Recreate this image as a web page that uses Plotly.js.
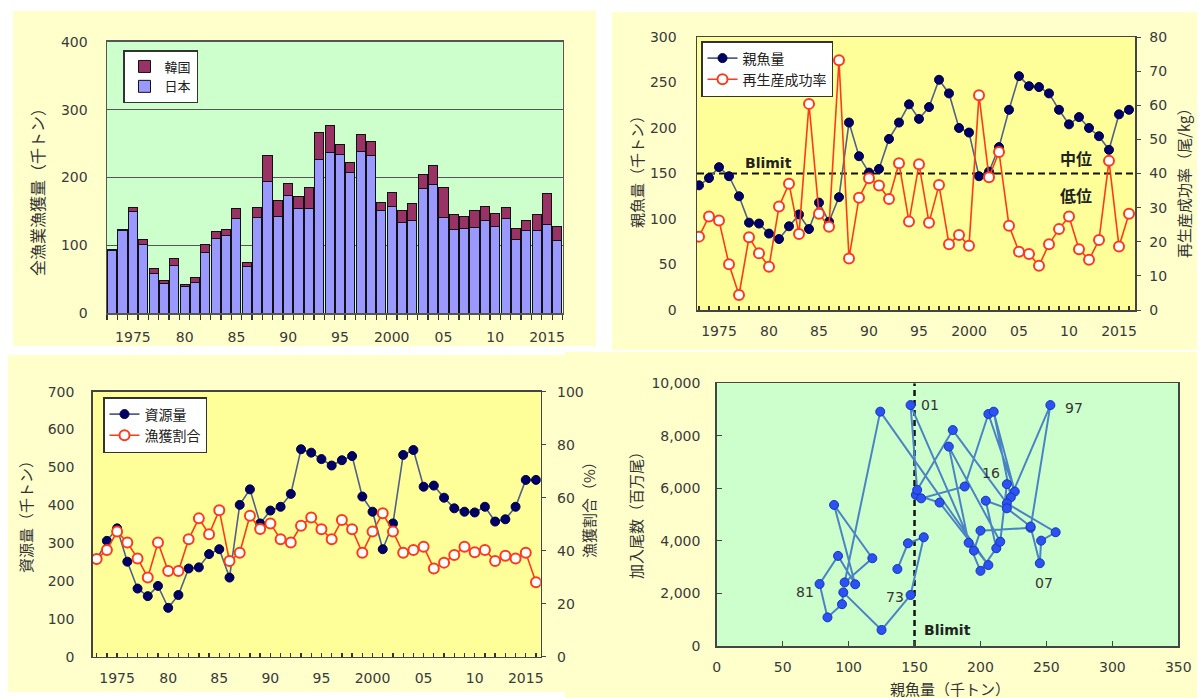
<!DOCTYPE html>
<html><head><meta charset="utf-8">
<script src="https://cdn.plot.ly/plotly-3.0.1.min.js"></script>
<style>html,body{margin:0;padding:0;background:#fff}#chart{width:1201px;height:698px}</style>
</head><body><div id="chart"></div>
<script>
// ---------------- data ----------------
const years = [1973,1974,1975,1976,1977,1978,1979,1980,1981,1982,1983,1984,1985,1986,1987,1988,1989,1990,1991,1992,1993,1994,1995,1996,1997,1998,1999,2000,2001,2002,2003,2004,2005,2006,2007,2008,2009,2010,2011,2012,2013,2014,2015,2016];
const tickYears = [1975,1980,1985,1990,1995,2000,2005,2010,2015];
const tickLabels = ['1975','80','85','90','95','2000','05','10','2015'];
// panel 1: catch (thousand t)
const catchJapan = [92,122,150,101,58,44,71,40,45,90,110,115,140,69,141,194,143,174,155,155,227,237,234,207,239,232,151,158,134,136,184,190,141,123,125,126,136,128,139,109,122,122,131,107];
const catchKorea = [2,1,6,8,8,4,9,2,8,12,11,8,14,6,15,39,23,17,17,30,39,39,14,15,25,21,12,20,18,25,20,28,44,22,18,25,22,19,17,16,14,23,45,21];
// panel 2: spawning stock biomass (thousand t) and RPS (fish/kg)
const ssb = [137,145,157,147,125,96,95,84,78,92,105,89,118,97,124,206,169,151,155,188,206,226,210,223,253,238,200,195,147,152,179,220,257,246,245,238,220,204,212,200,191,176,215,220];
const rps = [21.5,27.4,26.2,13.4,4.4,21.3,16.6,12.7,30.3,37.0,22.3,60.4,28.2,24.4,73.2,15.1,32.9,38.6,36.5,32.5,43.0,25.9,42.7,25.6,36.6,19.3,22.0,18.8,62.9,38.9,46.3,24.7,17.1,16.4,13.0,19.3,23.7,27.4,17.8,14.7,20.5,43.7,18.6,28.2];
// panel 3: biomass (thousand t) and exploitation rate (%)
const biomass = [257,306,339,251,180,160,187,129,163,233,236,271,284,209,401,442,352,386,396,430,548,539,522,505,519,530,423,383,284,352,533,546,449,452,420,392,383,381,396,357,363,396,467,467];
const exploitRate = [36.9,40.3,47.2,43.1,37.1,29.9,43.1,32.3,32.3,44.3,52.2,46.2,55.3,36.1,39.2,53.2,48.2,50.3,44.3,43.1,49.4,52.5,48.1,44.3,51.6,48.1,39.2,47.2,54.1,47.2,39.2,40.3,41.5,33.3,35.5,38.4,41.5,39.4,40.3,36.1,38.1,37.1,39.2,28.1];
// panel 4: recruits (million fish)
const recruits = [2930,3910,4140,1940,610,2040,1590,1090,2360,3430,2350,5370,3340,2420,8920,3080,5460,5750,5620,6070,8830,5880,8920,5660,9170,4500,4390,3630,9170,5940,8220,5430,4330,4010,3150,4550,5240,5530,3720,2860,3930,7590,3970,6160];
const yearLabels = [['73',895,597],['81',805,592],['01',930,405],['97',1074,408],['16',991,473],['07',1044,583]];

// ---------------- helpers ----------------
const W = 1201, H = 698;
const px = x => x / W, py = y => 1 - y / H;
const FONT = 'DejaVu Sans, Noto Sans CJK JP, sans-serif';
const JFONT = 'Noto Sans CJK JP, DejaVu Sans, sans-serif';
const tickFont = {family: FONT, size: 14, color: '#3a3a3a'};

const navy = '#000066', navyLine = '#50608a', red = '#ff3a1a';

const traces = [
  {type:'bar', x: years, y: catchJapan, name:'日本', xaxis:'x', yaxis:'y',
   marker:{color:'#9999ff', line:{color:'#111', width:1}}, legend:'legend'},
  {type:'bar', x: years, y: catchKorea, name:'韓国', xaxis:'x', yaxis:'y',
   marker:{color:'#993366', line:{color:'#111', width:1}}, legend:'legend'},
  {type:'scatter', mode:'lines+markers', x: years, y: ssb, name:'親魚量', xaxis:'x2', yaxis:'y2',
   line:{color:navyLine, width:1.6}, marker:{color:navy, size:9, line:{color:'#000044', width:1}}, legend:'legend2'},
  {type:'scatter', mode:'lines+markers', x: years, y: rps, name:'再生産成功率', xaxis:'x2', yaxis:'y3',
   line:{color:red, width:1.6}, marker:{color:'#ffffff', size:10, line:{color:red, width:2}}, legend:'legend2'},
  {type:'scatter', mode:'lines+markers', x: years, y: biomass, name:'資源量', xaxis:'x3', yaxis:'y4',
   line:{color:navyLine, width:1.6}, marker:{color:navy, size:9, line:{color:'#000044', width:1}}, legend:'legend3'},
  {type:'scatter', mode:'lines+markers', x: years, y: exploitRate, name:'漁獲割合', xaxis:'x3', yaxis:'y5',
   line:{color:red, width:1.6}, marker:{color:'#ffffff', size:10, line:{color:red, width:2}}, legend:'legend3'},
  {type:'scatter', mode:'lines+markers', x: ssb, y: recruits, name:'加入', xaxis:'x4', yaxis:'y6',
   line:{color:'#4a84c4', width:2}, marker:{color:'#2a52f5', size:9, line:{color:'#1a35b0', width:1}}, showlegend:false}
];

const boxLine = {showline:true, mirror:true, linecolor:'#444', linewidth:1.5, zeroline:false, showgrid:false};
const yearAxis = (dom, anchor, range) => Object.assign({
  domain: dom, anchor: anchor, range: range, tickmode:'array', tickvals: tickYears, ticktext: tickLabels,
  ticks:'inside', ticklen:4, tickcolor:'#333', tickwidth:1.3, tickfont: tickFont, ticklabelstandoff: 8,
  minor:{tick0:1973, dtick:1, ticks:'inside', ticklen:4, tickcolor:'#333', tickwidth:1.3, showgrid:false}
}, boxLine);

const layout = {
  width: W, height: H, margin:{l:0,r:0,t:0,b:0}, paper_bgcolor:'#ffffff', plot_bgcolor:'rgba(0,0,0,0)',
  font:{family: FONT, color:'#333'}, barmode:'stack', bargap:0.12,
  // panel 1
  xaxis: Object.assign({domain:[px(107),px(562.5)], anchor:'y', range:[1972.5,2016.5], tickmode:'array',
    tickvals: tickYears, ticktext: tickLabels, ticks:'', tickfont: tickFont, ticklabelstandoff: 10,
    minor:{tick0:1972.5, dtick:1, ticks:'outside', ticklen:5, tickcolor:'#333', tickwidth:1.3, showgrid:false}},
    boxLine, {linecolor:'#555'}),
  yaxis: Object.assign({}, boxLine, {domain:[py(313.3),py(41.7)], anchor:'x', range:[0,400], dtick:100,
    showgrid:true, gridcolor:'#555', gridwidth:1.2, ticks:'', tickfont: tickFont, ticklabelstandoff: 15, linecolor:'#555'}),
  // panel 2
  xaxis2: yearAxis([px(697),px(1135)], 'y2', [1972.8, 2016.6]),
  yaxis2: Object.assign({}, boxLine, {domain:[py(310),py(37)], anchor:'x2', range:[0,300], dtick:50,
    ticks:'', tickfont: tickFont, ticklabelstandoff: 16}),
  yaxis3: Object.assign({}, boxLine, {overlaying:'y2', side:'right', anchor:'x2', range:[0,80], dtick:10,
    ticks:'outside', ticklen:4, tickcolor:'#444', tickfont: tickFont, ticklabelstandoff: 6}),
  // panel 3
  xaxis3: yearAxis([px(92.7),px(540.7)], 'y4', [1972.61, 2016.46]),
  yaxis4: Object.assign({}, boxLine, {domain:[py(656.7),py(391.7)], anchor:'x3', range:[0,700], dtick:100,
    ticks:'', tickfont: tickFont, ticklabelstandoff: 14}),
  yaxis5: Object.assign({}, boxLine, {overlaying:'y4', side:'right', anchor:'x3', range:[0,100], dtick:20,
    ticks:'outside', ticklen:4, tickcolor:'#444', tickfont: tickFont, ticklabelstandoff: 8}),
  // panel 4
  xaxis4: Object.assign({}, boxLine, {domain:[px(716.7),px(1178.3)], anchor:'y6', range:[0,350], dtick:50,
    ticks:'inside', ticklen:5, tickcolor:'#444', tickfont: tickFont, ticklabelstandoff: 8}),
  yaxis6: Object.assign({}, boxLine, {domain:[py(646),py(383.3)], anchor:'x4', range:[0,10000], dtick:2000,
    tickformat:',d', ticks:'inside', ticklen:5, tickcolor:'#444', tickfont: tickFont, ticklabelstandoff: 12}),
  legend: {x:px(123), y:py(50), xanchor:'left', yanchor:'top', bgcolor:'#fff', bordercolor:'#333', borderwidth:1.5,
    font:{family:JFONT, size:13, color:'#222'}, traceorder:'reversed'},
  legend2: {x:px(701), y:py(41), xanchor:'left', yanchor:'top', bgcolor:'#fff', bordercolor:'#333', borderwidth:1.5,
    font:{family:JFONT, size:14, color:'#222'}},
  legend3: {x:px(103), y:py(397), xanchor:'left', yanchor:'top', bgcolor:'#fff', bordercolor:'#333', borderwidth:1.5,
    font:{family:JFONT, size:14, color:'#222'}},
  shapes: [
    // panel backgrounds
    {type:'rect', xref:'paper', yref:'paper', x0:px(13), x1:px(596), y0:py(346), y1:py(11), fillcolor:'#ffffcc', line:{width:0}, layer:'below'},
    {type:'rect', xref:'paper', yref:'paper', x0:px(612), x1:px(1197), y0:py(350), y1:py(12), fillcolor:'#ffffcc', line:{width:0}, layer:'below'},
    {type:'rect', xref:'paper', yref:'paper', x0:px(8), x1:px(565), y0:py(692), y1:py(355), fillcolor:'#ffffcc', line:{width:0}, layer:'below'},
    {type:'rect', xref:'paper', yref:'paper', x0:px(565), x1:px(1197), y0:py(698), y1:py(352), fillcolor:'#ffffcc', line:{width:0}, layer:'below'},
    // plot area backgrounds
    {type:'rect', xref:'paper', yref:'paper', x0:px(107), x1:px(562.5), y0:py(313.3), y1:py(41.7), fillcolor:'#ccffcc', line:{width:0}, layer:'below'},
    {type:'rect', xref:'paper', yref:'paper', x0:px(697), x1:px(1135), y0:py(310), y1:py(37), fillcolor:'#ffff99', line:{width:0}, layer:'below'},
    {type:'rect', xref:'paper', yref:'paper', x0:px(92.7), x1:px(540.7), y0:py(656.7), y1:py(391.7), fillcolor:'#ffff99', line:{width:0}, layer:'below'},
    {type:'rect', xref:'paper', yref:'paper', x0:px(716.7), x1:px(1178.3), y0:py(646), y1:py(383.3), fillcolor:'#ccffcc', line:{width:0}, layer:'below'},
    // Blimit lines
    {type:'line', xref:'x2', yref:'y2', x0:1972.8, x1:2016.6, y0:150, y1:150, line:{color:'#111', width:2, dash:'7px,4px'}, layer:'below'},
    {type:'line', xref:'x4', yref:'y6', x0:150, x1:150, y0:0, y1:10000, line:{color:'#111', width:2.5, dash:'6px,4px'}, layer:'below'}
  ],
  annotations: []
};

const ann = (text, x, y, opts) => Object.assign({text, x:px(x), y:py(y), xref:'paper', yref:'paper',
  showarrow:false, xanchor:'center', yanchor:'middle', font:{family:JFONT, size:15, color:'#333'}}, opts || {});

layout.annotations.push(
  ann('全漁業漁獲量（千トン）', 37, 188, {textangle:-90, font:{family:JFONT, size:16, color:'#333'}}),
  ann('親魚量（千トン）', 637, 168, {textangle:-90}),
  ann('再生産成功率（尾/kg）', 1184, 180, {textangle:-90}),
  ann('資源量（千トン）', 25, 513, {textangle:-90}),
  ann('漁獲割合（%）', 588, 506, {textangle:-90}),
  ann('加入尾数（百万尾）', 635, 512, {textangle:-90}),
  ann('親魚量（千トン）', 950, 688),
  ann('<b>Blimit</b>', 768, 163, {font:{family:FONT, size:14, color:'#222'}}),
  ann('<b>中位</b>', 1076, 158, {font:{family:JFONT, size:16, color:'#222'}}),
  ann('<b>低位</b>', 1076, 195, {font:{family:JFONT, size:16, color:'#222'}}),
  ann('<b>Blimit</b>', 947, 630, {font:{family:FONT, size:14, color:'#222'}})
);
yearLabels.forEach(l => layout.annotations.push(ann(l[0], l[1], l[2], {font:{family:FONT, size:14, color:'#333'}})));

Plotly.newPlot('chart', traces, layout, {staticPlot:true, displayModeBar:false});
</script>
</body></html>
